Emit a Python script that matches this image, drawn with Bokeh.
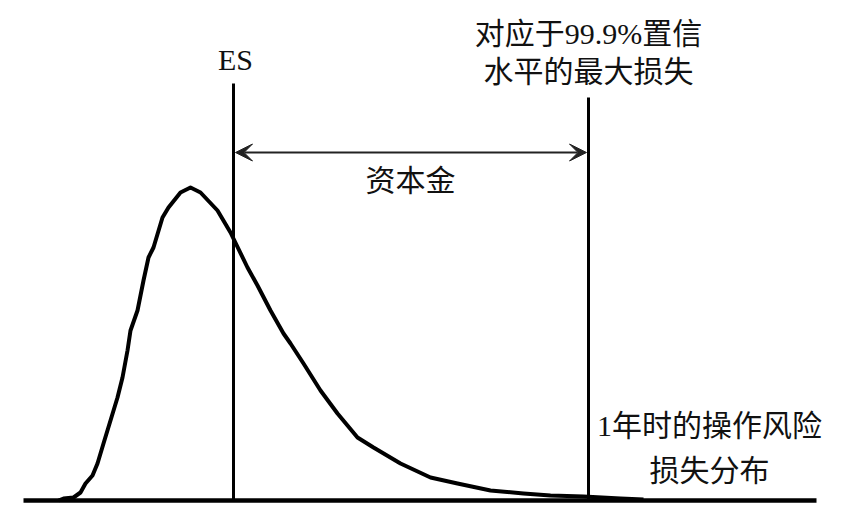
from bokeh.plotting import figure
from bokeh.models import Range1d, Arrow, VeeHead, ColumnDataSource
from bokeh.core.properties import value
from bokeh.embed import file_html
from bokeh.resources import INLINE

# Loss distribution curve (loss, density)
loss = [58, 63, 73, 80, 85, 92, 97, 103, 110, 117, 122, 127, 130, 137, 143,
        148, 153, 162, 168, 180, 190, 200, 217, 230, 247, 257, 270, 283, 290,
        303, 320, 337, 357, 373, 400, 430, 457, 490, 523, 550, 583, 620, 643]
density = [0, 2, 3, 8, 17, 25, 37, 57, 80, 103, 123, 150, 170, 190, 220,
           243, 253, 283, 293, 308, 313, 308, 290, 268, 233, 215, 190, 167, 157,
           137, 110, 87, 63, 53, 37, 23, 17, 10, 7, 5, 4, 2, 1]

# Axis (baseline) extent
base_x = [23, 816]
base_y = [0, 0]

# Markers
es_x = 233
es_top = 417
var_x = 588
var_top = 403

# Labels
label_text = ["ES", "对应于99.9%置信", "水平的最大损失", "资本金", "1年时的操作风险", "损失分布"]
label_x = [235, 588, 588, 410, 709, 709]
label_y = [441, 467, 429, 320, 75, 30]

capital_y = 348

p = figure(width=837, height=505, output_backend="svg", toolbar_location=None,
           x_range=Range1d(0, 837), y_range=Range1d(-5, 500),
           min_border=0, min_border_left=0, min_border_right=0,
           min_border_top=0, min_border_bottom=0)
p.axis.visible = False
p.grid.visible = False
p.outline_line_color = None
p.background_fill_color = "white"
p.border_fill_color = "white"

p.line(base_x, base_y, line_width=4.5, line_color="black")
p.line(loss, density, line_width=4, line_color="black", line_join="round")
p.segment(x0=[es_x, var_x], y0=[0, 0], x1=[es_x, var_x], y1=[es_top, var_top],
          line_width=3, line_color="black")

p.add_layout(Arrow(start=VeeHead(size=17, fill_color="#222222", line_color="#222222", line_width=1),
                   end=VeeHead(size=17, fill_color="#222222", line_color="#222222", line_width=1),
                   x_start=es_x + 2, y_start=capital_y, x_end=var_x - 2, y_end=capital_y,
                   line_width=2, line_color="#222222"))

src = ColumnDataSource(dict(x=label_x, y=label_y, t=label_text))
p.text(x="x", y="y", text="t", source=src, text_align="center", text_baseline="middle",
       text_font=value("'Liberation Serif', 'Noto Sans CJK SC'"),
       text_font_size="30px", text_color="#111111")

open("out.html", "w").write(file_html(p, INLINE))
